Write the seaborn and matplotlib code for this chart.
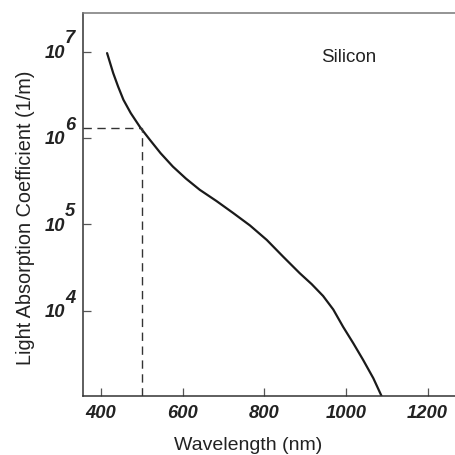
import numpy as np
import pandas as pd
import matplotlib
matplotlib.use("Agg")
import matplotlib.pyplot as plt
import matplotlib.transforms as mtransforms
import seaborn as sns

# ---------------------------------------------------------
# Data (absorption of silicon)
# ---------------------------------------------------------
wavelength_nm = [415, 430, 442, 455, 473, 496, 520, 546, 576, 608, 642, 683,
                 724, 765, 806, 846, 887, 916, 944, 969, 993, 1018, 1042,
                 1067, 1087]
absorption = [9.62e6, 5.64e6, 3.94e6, 2.77e6, 1.94e6, 1.33e6, 9.5e5, 6.67e5,
              4.67e5, 3.39e5, 2.51e5, 1.86e5, 1.35e5, 9.7e4, 6.6e4, 4.23e4,
              2.71e4, 2.03e4, 1.48e4, 1.03e4, 6.5e3, 4.19e3, 2.69e3, 1.65e3,
              1.03e3]

marker_wl = 500
marker_alpha = 1.3e6

x_ticks = [400, 600, 800, 1000, 1200]
y_exponents = [4, 5, 6, 7]

df = pd.DataFrame({"wavelength": wavelength_nm, "alpha": absorption})

# ---------------------------------------------------------
# Style
# ---------------------------------------------------------
sns.set_style("ticks")
plt.rcParams["font.family"] = ["Liberation Sans", "DejaVu Sans"]
text_col = "#222222"
tick_fs = 13.2

fig = plt.figure(figsize=(4.55, 4.55), dpi=100)
ax = fig.add_axes([0.1824, 0.1297, 0.8176, 0.8418])

sns.lineplot(data=df, x="wavelength", y="alpha", ax=ax,
             color="#1a1a1a", linewidth=1.6)

ax.set_yscale("log")
x_min, x_max = 356, 1267
y_min, y_max = 10 ** 3.012, 10 ** 7.448
ax.set_xlim(x_min, x_max)
ax.set_ylim(y_min, y_max)

# dashed guide at 500 nm
ax.plot([x_min, marker_wl], [marker_alpha, marker_alpha],
        color="#333333", linestyle=(0, (6, 4)), linewidth=1.0)
ax.plot([marker_wl, marker_wl], [y_min, marker_alpha],
        color="#333333", linestyle=(0, (6, 4)), linewidth=1.0)

# spines
ax.spines["right"].set_visible(False)
ax.spines["left"].set_color("#333333")
ax.spines["bottom"].set_color("#333333")
ax.spines["top"].set_color("#777777")
for s in ["left", "bottom", "top"]:
    ax.spines[s].set_linewidth(1.1)

# x ticks
ax.set_xticks(x_ticks)
ax.set_xticklabels([str(t) for t in x_ticks], fontsize=tick_fs,
                   fontweight="bold", fontstyle="italic", color=text_col)
ax.tick_params(axis="x", direction="in", length=6, width=0.9,
               color="#555555", pad=6.5)

# y ticks: "10" as tick label, exponent added separately
ax.yaxis.set_minor_locator(matplotlib.ticker.NullLocator())
ax.set_yticks([10.0 ** e for e in y_exponents])
ax.set_yticklabels(["10"] * len(y_exponents), fontsize=tick_fs,
                   fontweight="bold", fontstyle="italic", color=text_col)
ax.tick_params(axis="y", direction="in", length=6, width=0.9,
               color="#555555", pad=12.5)

trans = mtransforms.blended_transform_factory(ax.transAxes, ax.transData)
for e in y_exponents:
    ax.annotate(str(e), xy=(0, 10.0 ** e), xycoords=trans,
                xytext=(-13, 3), textcoords="offset points",
                ha="left", va="bottom", fontsize=tick_fs,
                fontweight="bold", fontstyle="italic", color=text_col)

# labels
ax.set_xlabel("Wavelength (nm)", fontsize=14, color=text_col)
ax.xaxis.set_label_coords(0.4435, -0.107)
ax.set_ylabel("Light Absorption Coefficient (1/m)", fontsize=14.3, color=text_col)
ax.yaxis.set_label_coords(-0.13, 0.465)

ax.text(0.715, 0.8825, "Silicon", transform=ax.transAxes, fontsize=13.5,
        ha="center", va="center", color=text_col)

fig.savefig("out.png", dpi=100)
